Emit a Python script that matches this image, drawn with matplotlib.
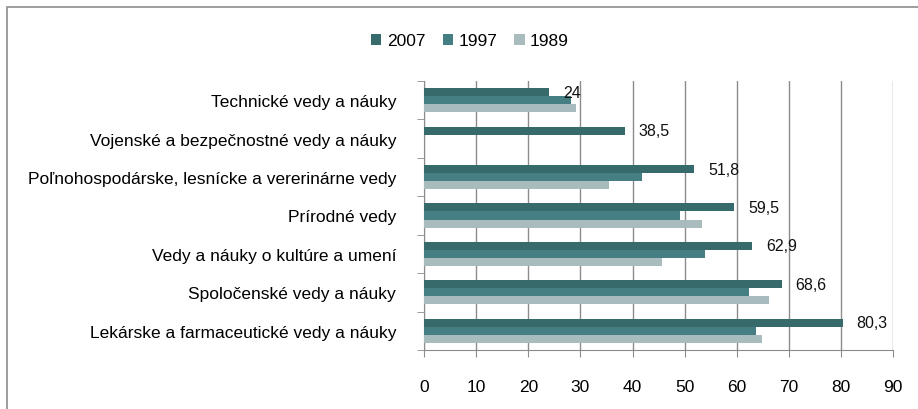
import matplotlib
matplotlib.use("Agg")
import matplotlib.pyplot as plt
import numpy as np
from matplotlib.patches import Rectangle
from matplotlib.ticker import FixedLocator

categories = [
    "Technické vedy a náuky",
    "Vojenské a bezpečnostné vedy a náuky",
    "Poľnohospodárske, lesnícke a vererinárne vedy",
    "Prírodné vedy",
    "Vedy a náuky o kultúre a umení",
    "Spoločenské vedy a náuky",
    "Lekárske a farmaceutické vedy a náuky",
]
series_names = ["2007", "1997", "1989"]
v2007 = [24, 38.5, 51.8, 59.5, 62.9, 68.6, 80.3]
v1997 = [28.2, 0, 41.9, 49.0, 53.8, 62.3, 63.6]
v1989 = [29.1, 0, 35.4, 53.3, 45.7, 66.2, 64.9]
labels2007 = ["24", "38,5", "51,8", "59,5", "62,9", "68,6", "80,3"]
xticks = [0, 10, 20, 30, 40, 50, 60, 70, 80, 90]

colors = ["#366A6B", "#457F84", "#A8BBBD"]

fam = ["Liberation Sans Narrow", "Liberation Sans", "DejaVu Sans"]
plt.rcParams["font.family"] = fam

fig = plt.figure(figsize=(9.18, 4.10), dpi=100)
fig.patches.append(Rectangle((7/918, -0.1), 1.2, (410-8)/410 + 0.1, transform=fig.transFigure,
                             fill=False, edgecolor="#8c8c8c", linewidth=1.2))
ax = fig.add_axes([424/918, 1-351/410, (893.3-424)/918, (351-82)/410])

n = len(categories)
y = np.arange(n)
h = 0.21
for vals, off, c, name in zip([v2007, v1997, v1989], [-h, 0, h], colors, series_names):
    ax.barh(y + off, vals, height=h, color=c, label=name, zorder=3)

for yi, v, lab in zip(y, v2007, labels2007):
    ax.annotate(lab, (v, yi - h), xytext=(10, 0), textcoords="offset points",
                va="center", ha="left", fontsize=11.5, color="#111111")

ax.set_xlim(0, 90)
ax.set_ylim(n - 0.5, -0.5)
ax.xaxis.set_major_locator(FixedLocator(xticks))
ax.set_xticklabels([str(t) for t in xticks], fontsize=12.5)
ax.set_yticks(y)
ax.set_yticklabels(categories, fontsize=12.5)
ax.yaxis.set_minor_locator(FixedLocator(np.arange(-0.5, n, 1.0)))
ax.tick_params(axis="y", which="major", length=0, pad=20)
ax.tick_params(axis="y", which="minor", length=5, direction="out", color="#8c8c8c")
ax.tick_params(axis="x", length=5, direction="out", color="#8c8c8c", pad=16)
ax.grid(axis="x", color="#8c8c8c", linewidth=1, zorder=0)
for s in ["top", "right"]:
    ax.spines[s].set_visible(False)
for s in ["left", "bottom"]:
    ax.spines[s].set_color("#8c8c8c")

fig.legend(loc="center", bbox_to_anchor=(470/918, 1-42/410), ncol=3, frameon=False,
           fontsize=12.5, handlelength=0.6, handleheight=0.6, handletextpad=0.3,
           columnspacing=1.0)

fig.savefig("out.png", dpi=100)
